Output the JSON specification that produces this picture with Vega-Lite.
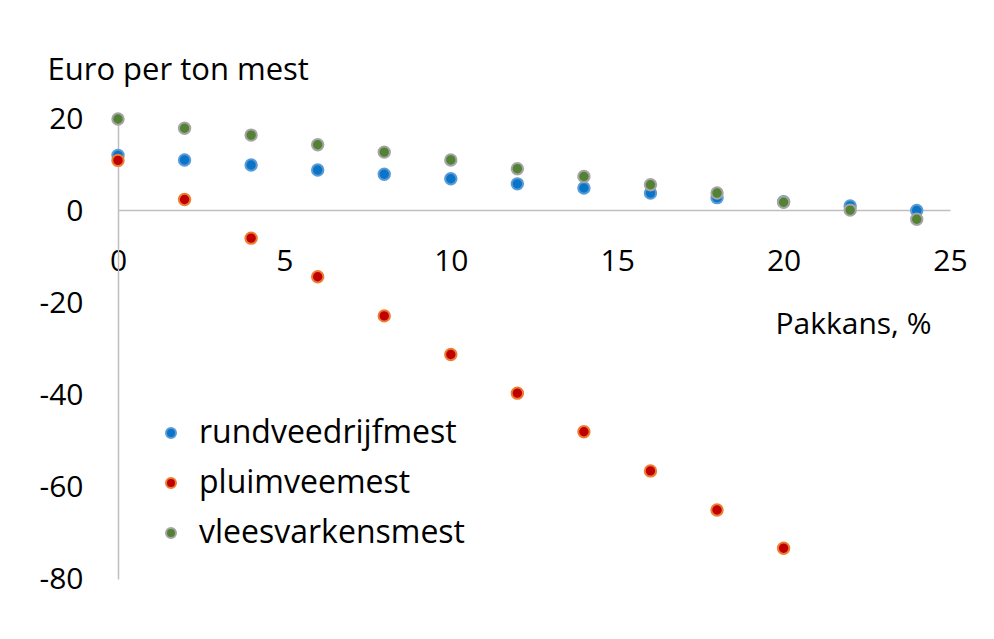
{
  "$schema": "https://vega.github.io/schema/vega-lite/v6.json",
  "autosize": "none",
  "width": 832,
  "height": 460,
  "padding": {"left": 118, "top": 119, "right": 44, "bottom": 60},
  "background": "white",
  "config": {
    "view": {"stroke": null},
    "font": "Open Sans",
    "axis": {"grid": false, "ticks": false, "domainColor": "#BFBFBF", "domainWidth": 1.5, "labelColor": "#000", "labelFont": "Open Sans", "labelFontSize": 30, "titleFont": "Open Sans", "titleColor": "#000", "titleFontWeight": "normal"},
    "legend": {"labelFont": "Open Sans", "labelFontSize": 32, "labelColor": "#000", "labelLimit": 0}
  },
  "data": {
    "values": [
      {"pakkans": 0, "series": "rundveedrijfmest", "euro": 12.1},
      {"pakkans": 2, "series": "rundveedrijfmest", "euro": 11.1},
      {"pakkans": 4, "series": "rundveedrijfmest", "euro": 10.0},
      {"pakkans": 6, "series": "rundveedrijfmest", "euro": 8.9},
      {"pakkans": 8, "series": "rundveedrijfmest", "euro": 8.0},
      {"pakkans": 10, "series": "rundveedrijfmest", "euro": 7.0},
      {"pakkans": 12, "series": "rundveedrijfmest", "euro": 5.9},
      {"pakkans": 14, "series": "rundveedrijfmest", "euro": 5.0},
      {"pakkans": 16, "series": "rundveedrijfmest", "euro": 3.9},
      {"pakkans": 18, "series": "rundveedrijfmest", "euro": 2.9},
      {"pakkans": 20, "series": "rundveedrijfmest", "euro": 2.0},
      {"pakkans": 22, "series": "rundveedrijfmest", "euro": 1.1},
      {"pakkans": 24, "series": "rundveedrijfmest", "euro": 0.1},
      {"pakkans": 0, "series": "pluimveemest", "euro": 11.0},
      {"pakkans": 2, "series": "pluimveemest", "euro": 2.5},
      {"pakkans": 4, "series": "pluimveemest", "euro": -5.9},
      {"pakkans": 6, "series": "pluimveemest", "euro": -14.3},
      {"pakkans": 8, "series": "pluimveemest", "euro": -22.8},
      {"pakkans": 10, "series": "pluimveemest", "euro": -31.2},
      {"pakkans": 12, "series": "pluimveemest", "euro": -39.6},
      {"pakkans": 14, "series": "pluimveemest", "euro": -48.0},
      {"pakkans": 16, "series": "pluimveemest", "euro": -56.5},
      {"pakkans": 18, "series": "pluimveemest", "euro": -65.0},
      {"pakkans": 20, "series": "pluimveemest", "euro": -73.3},
      {"pakkans": 0, "series": "vleesvarkensmest", "euro": 20.0},
      {"pakkans": 2, "series": "vleesvarkensmest", "euro": 18.0},
      {"pakkans": 4, "series": "vleesvarkensmest", "euro": 16.5},
      {"pakkans": 6, "series": "vleesvarkensmest", "euro": 14.4},
      {"pakkans": 8, "series": "vleesvarkensmest", "euro": 12.8},
      {"pakkans": 10, "series": "vleesvarkensmest", "euro": 11.1},
      {"pakkans": 12, "series": "vleesvarkensmest", "euro": 9.2},
      {"pakkans": 14, "series": "vleesvarkensmest", "euro": 7.5},
      {"pakkans": 16, "series": "vleesvarkensmest", "euro": 5.7},
      {"pakkans": 18, "series": "vleesvarkensmest", "euro": 3.9},
      {"pakkans": 20, "series": "vleesvarkensmest", "euro": 1.9},
      {"pakkans": 22, "series": "vleesvarkensmest", "euro": 0.2},
      {"pakkans": 24, "series": "vleesvarkensmest", "euro": -1.8}
    ]
  },
  "mark": {"type": "point", "shape": "circle", "filled": true, "opacity": 1, "size": 130, "strokeWidth": 2},
  "encoding": {
    "x": {
      "field": "pakkans", "type": "quantitative",
      "scale": {"domain": [0, 25], "nice": false, "zero": false},
      "axis": {"values": [0, 5, 10, 15, 20, 25], "offset": -369, "labelPadding": 36, "labelAlign": "center", "labelBaseline": "top", "labelFlush": false, "labelOverlap": false,
        "title": "Pakkans, %", "titleFontSize": 30, "titleX": 735, "titleY": 114, "titleAlign": "center", "titleBaseline": "middle", "titleAnchor": null}
    },
    "y": {
      "field": "euro", "type": "quantitative",
      "scale": {"domain": [-80, 20], "nice": false, "zero": false},
      "axis": {"values": [-80, -60, -40, -20, 0, 20], "labelExpr": "datum.value + ''", "labelPadding": 35, "labelFlush": false, "labelOverlap": false,
        "title": "Euro per ton mest", "titleFontSize": 31, "titleAngle": 0, "titleX": -71, "titleY": -49, "titleAlign": "left", "titleBaseline": "middle", "titleAnchor": null}
    },
    "fill": {
      "field": "series", "type": "nominal",
      "scale": {"domain": ["rundveedrijfmest", "pluimveemest", "vleesvarkensmest"], "range": ["#0A74C8", "#C00000", "#548235"]},
      "legend": {"title": null, "orient": "none", "legendX": 37, "legendY": 298, "symbolType": "circle", "symbolSize": 100, "symbolStrokeWidth": 2, "rowPadding": 18, "labelOffset": 12, "labelFontSize": 32}
    },
    "stroke": {
      "field": "series", "type": "nominal",
      "scale": {"domain": ["rundveedrijfmest", "pluimveemest", "vleesvarkensmest"], "range": ["#5B9BD5", "#ED7D31", "#A5A5A5"]},
      "legend": {"title": null, "orient": "none", "legendX": 37, "legendY": 298, "symbolType": "circle", "symbolSize": 100, "symbolStrokeWidth": 2, "rowPadding": 18, "labelOffset": 12, "labelFontSize": 32}
    }
  }
}
